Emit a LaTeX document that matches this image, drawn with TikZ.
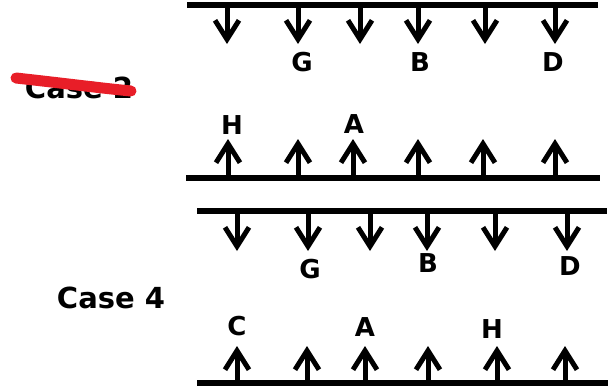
\documentclass[tikz,border=0pt]{standalone}
\usepackage{fontspec}
\setmainfont{DejaVu Sans}
\usetikzlibrary{arrows.meta}
\definecolor{strikered}{RGB}{232,30,40}
\begin{document}
\begin{tikzpicture}[x=1pt,y=-1pt,
  bar/.style={line width=5.5pt},
  arr/.style={line width=5pt,-{Straight Barb[length=19pt,width=24pt]}},
  lbl/.style={font=\bfseries\fontsize{26}{30}\selectfont,inner sep=0pt},
  casel/.style={font=\bfseries\fontsize{29}{34}\selectfont,inner sep=0pt}]
\useasboundingbox (0,0) rectangle (610,389);
% ---- Case 2 ----
\draw[bar] (187,5) -- (598,5);
\draw[bar] (186,178) -- (600,178);
\foreach \x in {227,298,360,418,485,555}
  \draw[arr] (\x,5) -- (\x,44);
\foreach \x in {228,298,353,418,483,555}
  \draw[arr] (\x,178) -- (\x,139);
\node[lbl] (g1) at (302,62) {G};
\node[lbl] (b1) at (420,62) {B};
\node[lbl] (d1) at (553,62) {D};
\node[lbl] (h1) at (232,125) {H};
\node[lbl] (a1) at (354,124) {A};
\node[casel] (case2) at (79,88) {Case 2};
\draw[strikered,line width=11pt,line cap=round] (16,78) .. controls (70,84) and (100,88) .. (131,91);
% ---- Case 4 ----
\draw[bar] (197,211) -- (607,211);
\draw[bar] (197,383) -- (608,383);
\foreach \x in {237,308,370,427,495,567}
  \draw[arr] (\x,211) -- (\x,251);
\foreach \x in {237,307,365,428,497,565}
  \draw[arr] (\x,383) -- (\x,346);
\node[lbl] (g2) at (310,269) {G};
\node[lbl] (b2) at (428,263) {B};
\node[lbl] (d2) at (570,266) {D};
\node[lbl] (c2) at (237,326) {C};
\node[lbl] (a2) at (365,327) {A};
\node[lbl] (h2) at (492,329) {H};
\node[casel] (case4) at (111,298) {Case 4};
\end{tikzpicture}
\end{document}
